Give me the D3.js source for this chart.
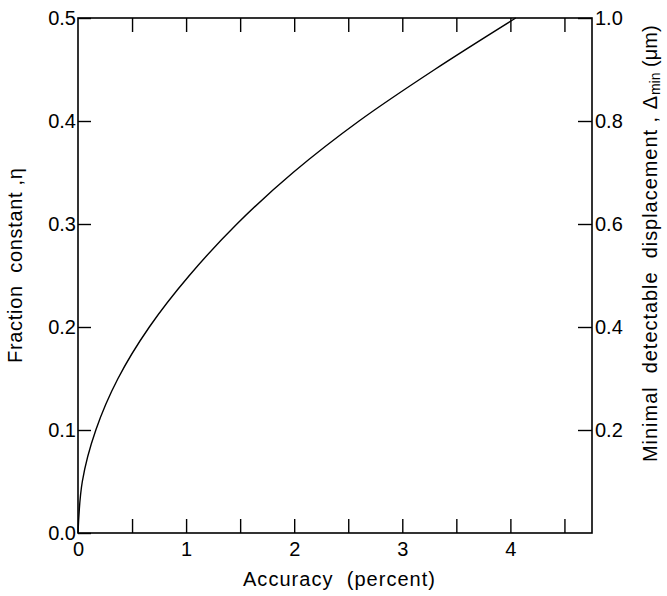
<!DOCTYPE html>
<html><head><meta charset="utf-8">
<script src="https://cdn.jsdelivr.net/npm/d3@7"></script>
<style>
body{margin:0;background:#fff;}
svg{display:block;font-family:"Liberation Sans",Arial,sans-serif;}
</style></head>
<body>
<svg id="c" width="667" height="596"></svg>
<script>
const accuracy = [0, 0.04, 0.165, 0.37, 0.66, 1.03, 1.47, 1.99, 2.6, 3.3, 4.05];
const eta      = [0, 0.05, 0.10, 0.15, 0.20, 0.25, 0.30, 0.35, 0.40, 0.45, 0.50];
const xTickMarks = [0.5, 1, 1.5, 2, 2.5, 3, 3.5, 4, 4.5];
const xTickLabels = [0, 1, 2, 3, 4];
const leftTicks = [0.0, 0.1, 0.2, 0.3, 0.4, 0.5];
const rightTicks = [0.2, 0.4, 0.6, 0.8, 1.0];

const svg = d3.select("#c");
const L = 78, R = 592, T = 18, B = 533;
const x = d3.scaleLinear().domain([0, 4.755]).range([L, R]);
const y = d3.scaleLinear().domain([0, 0.5]).range([B, T]);
const y2 = d3.scaleLinear().domain([0, 1.0]).range([B, T]);
const fs = 20, tfs = 20;

// frame
svg.append("rect").attr("x", L).attr("y", T).attr("width", R - L).attr("height", B - T)
  .attr("fill", "none").attr("stroke", "#000").attr("stroke-width", 1.6);

function styleAxis(g){
  g.select(".domain").remove();
  g.selectAll("line").attr("stroke", "#000").attr("stroke-width", 1.4);
  g.selectAll("text").attr("font-size", fs).attr("fill", "#000");
}
svg.append("g").attr("transform", `translate(0,${B})`)
  .call(d3.axisBottom(x).tickValues(xTickMarks).tickSize(-14).tickFormat(""))
  .call(styleAxis);
svg.append("g").attr("transform", `translate(0,${T})`)
  .call(d3.axisTop(x).tickValues(xTickMarks).tickSize(-14).tickFormat(""))
  .call(styleAxis);
svg.append("g").attr("transform", `translate(0,${B})`)
  .call(d3.axisBottom(x).tickValues(xTickLabels).tickSize(0).tickPadding(9).tickFormat(d3.format("d")))
  .call(styleAxis);
svg.append("g").attr("transform", `translate(${L},0)`)
  .call(d3.axisLeft(y).tickValues(leftTicks).tickSize(-13).tickPadding(2).tickFormat(d3.format(".1f")))
  .call(styleAxis);
svg.append("g").attr("transform", `translate(${R},0)`)
  .call(d3.axisRight(y2).tickValues(rightTicks).tickSize(-14).tickPadding(3).tickFormat(d3.format(".1f")))
  .call(styleAxis);

// curve
const pts = accuracy.map((a, i) => [a, eta[i]]);
svg.append("path").datum(pts)
  .attr("fill", "none").attr("stroke", "#000").attr("stroke-width", 1.4)
  .attr("d", d3.line().x(d => x(d[0])).y(d => y(d[1])).curve(d3.curveMonotoneY));

// titles
svg.append("text").attr("x", 243).attr("y", 586).attr("text-anchor", "start")
  .attr("font-size", tfs).attr("xml:space", "preserve")
  .attr("textLength", 192).attr("lengthAdjust", "spacing")
  .text("Accuracy  (percent)");

svg.append("text").attr("transform", "translate(22,363) rotate(-90)").attr("text-anchor", "start")
  .attr("font-size", tfs).attr("xml:space", "preserve")
  .attr("textLength", 195).attr("lengthAdjust", "spacing")
  .text("Fraction  constant ,\u03B7");

const rt = svg.append("text").attr("transform", "translate(657,462) rotate(-90)").attr("text-anchor", "start")
  .attr("font-size", tfs).attr("xml:space", "preserve");
rt.append("tspan").attr("textLength", 366).attr("lengthAdjust", "spacing")
  .text("Minimal  detectable  displacement , \u0394");
rt.append("tspan").attr("font-size", 14).attr("dy", 3).text("min");
rt.append("tspan").attr("dy", -3).text(" (\u03BCm)");
</script>
</body></html>
